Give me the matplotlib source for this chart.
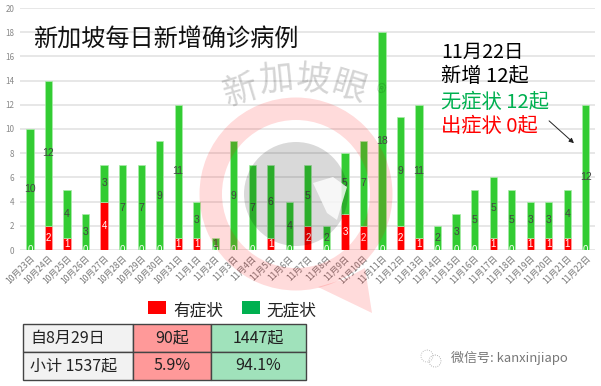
import matplotlib
matplotlib.use("Agg")
import matplotlib.pyplot as plt
from matplotlib.patches import Circle, Polygon, Rectangle, Wedge

plt.rcParams['font.family'] = ['Noto Sans CJK SC', 'DejaVu Sans']

W, H = 601, 386

dates = ["10月23日", "10月24日", "10月25日", "10月26日", "10月27日", "10月28日", "10月29日", "10月30日",
         "10月31日", "11月1日", "11月2日", "11月3日", "11月4日", "11月5日", "11月6日", "11月7日",
         "11月8日", "11月9日", "11月10日", "11月11日", "11月12日", "11月13日", "11月14日", "11月15日",
         "11月16日", "11月17日", "11月18日", "11月19日", "11月20日", "11月21日", "11月22日"]
symptomatic = [0, 2, 1, 0, 4, 0, 0, 0, 1, 1, 0, 0, 0, 1, 0, 2, 0, 3, 2, 0, 2, 1, 0, 0, 0, 1, 0, 1, 1, 1, 0]
asymptomatic = [10, 12, 4, 3, 3, 7, 7, 9, 11, 3, 1, 9, 7, 6, 4, 5, 2, 5, 7, 18, 9, 11, 2, 3, 5, 5, 5, 3, 3, 4, 12]
y_ticks = [0, 2, 4, 6, 8, 10, 12, 14, 16, 18, 20]

table_rows = [["自8月29日", "90起", "1447起"], ["小计 1537起", "5.9%", "94.1%"]]

fig = plt.figure(figsize=(W / 100, H / 100), dpi=100, facecolor="white")

# chart axes, placed in pixels
left, right, top, bottom = 20, 595, 8, 250
ax = fig.add_axes([left / W, 1 - bottom / H, (right - left) / W, (bottom - top) / H])
ax.set_xlim(-0.54, 30.5)
ax.set_ylim(0, 20)

xs = list(range(len(dates)))
ax.bar(xs, symptomatic, width=0.39, color="#ff0000", edgecolor="#ffb0b0", linewidth=0.4, zorder=2)
ax.bar(xs, asymptomatic, width=0.39, bottom=symptomatic, color="#33cc33", edgecolor="#a8eba8",
       linewidth=0.5, zorder=2)

for x, s, a in zip(xs, symptomatic, asymptomatic):
    ax.text(x, s / 2 if s else 0, str(s), color="white", fontsize=7, ha="center", va="center",
            family=["Liberation Sans"], zorder=3, clip_on=True)
    ax.text(x, s + a / 2, str(a), color="#444444", fontsize=7.5, ha="center", va="center",
            family=["Liberation Sans"], zorder=3)

ax.set_yticks(y_ticks)
ax.set_xticks(xs)
ax.set_xticklabels(dates, rotation=45, ha="right", rotation_mode="anchor", fontsize=6.2, color="#777777")
ax.tick_params(axis="x", length=0, pad=3)
ax.tick_params(axis="y", length=0, pad=4, labelsize=5.8, labelcolor="#888888")
ax.grid(axis="y", color="#e0e0e0", linewidth=1.1, zorder=0)
ax.set_axisbelow(True)
for spine in ax.spines.values():
    spine.set_visible(False)

# overlay in image pixels for the pasted-on parts
ov = fig.add_axes([0, 0, 1, 1], zorder=5)
ov.set_xlim(0, W)
ov.set_ylim(H, 0)
ov.axis("off")
ov.patch.set_alpha(0)

# watermark
pink = (1, 0, 0, 0.14)
ov.add_patch(Wedge((296, 194), 96.5, 0, 360, width=22.5, facecolor=pink, edgecolor="none"))
ov.add_patch(Polygon([(318, 287), (372, 313), (365, 268), (345, 279)], facecolor=pink, edgecolor="none"))
ov.add_patch(Circle((296, 194), 52, facecolor=(0, 0, 0, 0.15), edgecolor="none"))
ov.add_patch(Polygon([(313, 183), (333, 177), (347, 187), (337, 220), (327, 213)], facecolor="white",
                     alpha=0.8, edgecolor="none"))
for ch, x, y, rot in [("新", 241, 91, 17), ("加", 276, 80, 6), ("坡", 313, 80, -6), ("眼", 349, 89, -17)]:
    ov.text(x, y, ch, fontsize=25, color=(0, 0, 0, 0.17), ha="center", va="center", rotation=rot)
ov.text(378, 95, "®", fontsize=15, color=(0, 0, 0, 0.16), ha="center", va="center", rotation=-20)

ov.text(33, 40, "新加坡每日新增确诊病例", fontsize=17.4, color="#111111", ha="left", va="center")

ov.text(441, 52, "11月22日", fontsize=14, color="black", ha="left", va="center")
ov.text(441, 76, "新增 12起", fontsize=14.6, color="black", ha="left", va="center")
ov.text(441, 102, "无症状 12起", fontsize=14.6, color="#00b050", ha="left", va="center")
ov.text(441, 126, "出症状 0起", fontsize=14.6, color="#ff0000", ha="left", va="center")
ov.annotate("", xy=(576, 145), xytext=(547, 119),
            arrowprops=dict(arrowstyle="-|>", color="#222222", lw=0.7, mutation_scale=7))

# legend
ov.add_patch(Rectangle((148, 301), 18, 13, facecolor="#ff0000", edgecolor="none"))
ov.text(173, 311, "有症状", fontsize=12, color="#222222", ha="left", va="center")
ov.add_patch(Rectangle((242, 301), 18, 13, facecolor="#00b050", edgecolor="none"))
ov.text(266, 311, "无症状", fontsize=12, color="#222222", ha="left", va="center")

# table under the chart
col_x = [23, 133, 211, 306]
row_y = [324, 352, 380]
col_colors = ["#f2f2f2", "#ff9999", "#a0e2bb"]
for r, row in enumerate(table_rows):
    for c, label in enumerate(row):
        ov.add_patch(Rectangle((col_x[c], row_y[r]), col_x[c + 1] - col_x[c], row_y[r + 1] - row_y[r],
                               facecolor=col_colors[c], edgecolor="#444444", linewidth=1))
        if c == 0:
            ov.text(col_x[c] + 7, (row_y[r] + row_y[r + 1]) / 2, label, fontsize=11.5, color="#222222",
                    ha="left", va="center")
        else:
            ov.text((col_x[c] + col_x[c + 1]) / 2, (row_y[r] + row_y[r + 1]) / 2, label, fontsize=11.5,
                    color="#222222", ha="center", va="center")

# wechat footer
ov.add_patch(Circle((427, 356), 6, facecolor="none", edgecolor="#aaaaaa", linewidth=0.6, linestyle=":"))
ov.add_patch(Circle((435, 361), 6, facecolor="none", edgecolor="#999999", linewidth=0.6, linestyle=":"))
ov.text(451, 358, "微信号: kanxinjiapo", fontsize=9.4, color="#777777", ha="left", va="center")

fig.savefig("out.png", dpi=100)
